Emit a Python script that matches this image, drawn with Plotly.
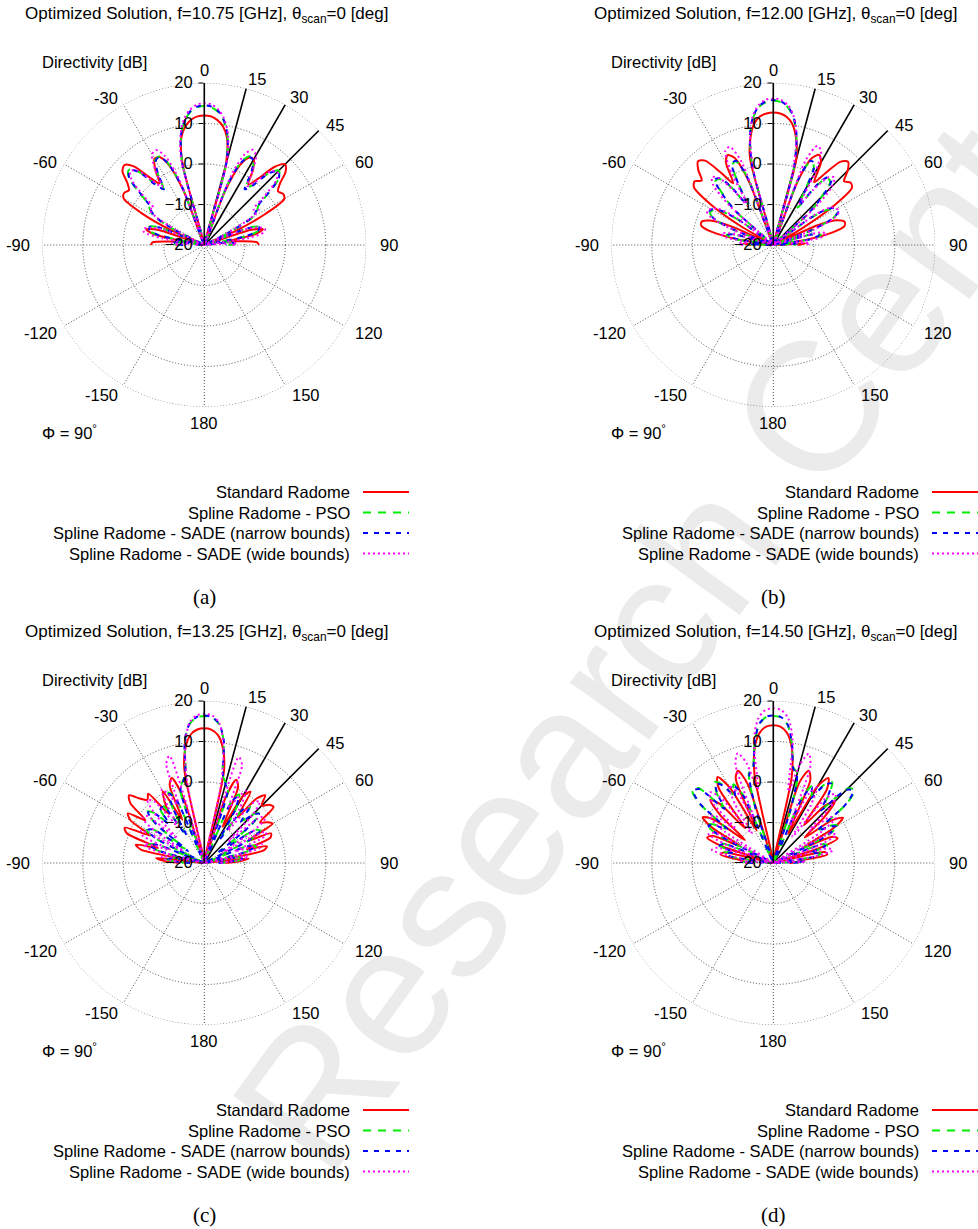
import plotly.graph_objects as go

# ---------------- data ----------------
theta_deg = list(range(-90, 91, 3))  # scan angle theta [deg], -90 .. 90

series_names = [
    "Standard Radome",
    "Spline Radome - PSO",
    "Spline Radome - SADE (narrow bounds)",
    "Spline Radome - SADE (wide bounds)",
]
frequencies = ["10.75", "12.00", "13.25", "14.50"]
panel_labels = ["(a)", "(b)", "(c)", "(d)"]

angular_label_angles = [0, 30, 60, 90, 120, 150, 180, -150, -120, -90, -60, -30, 15, 45]
angular_label_text = ["0", "30", "60", "90", "120", "150", "180", "-150", "-120", "-90", "-60", "-30", "15", "45"]
angular_gridvals = [0, 30, 60, 90, 120, 150, 180, 210, 240, 270, 300, 330]
radial_tickvals = [-20, -10, 0, 10, 20]
scan_line_angles = [15, 30, 45]

# Directivity [dB], theta = -90..90 step 3
a_standard = [-6.8, -7.2, -11.5, -15, -7.5, -5.2, -7.8, -20, -11, -2.5, 3.0, 3.6, 3.0, 4.5, 7.2, 7.9, 6.2, 1.5, -1.2, 2.2, 4.6, 4.4, 1.8, -5.5, -20, 0.8, 7.2, 9.7, 11.1, 11.8,
              12.0, 11.8, 11.0, 9.6, 7.0, 0.5, -20, -6, 1.5, 4.2, 4.4, 2.0, -1.5, 1.0, 6.0, 8.2, 7.0, 4.0, 2.5, 3.2, 2.8, -3, -12, -20, -8, -5, -7, -14, -11, -7, -6.5]
a_pso = [-14.5, -12, -12.5, -20, -8.5, -5.8, -5.5, -7.5, -20, -11, -5.5, -4.0, -3.0, 0.8, 5.2, 6.3, 4.5, -0.5, -2.8, 1.2, 4.2, 4.5, 2.2, -4.5, -20, 1.2, 7.6, 11.0, 13.0, 14.0,
         14.3, 14.0, 13.0, 11.0, 7.5, 1.0, -20, -4, 2.5, 4.6, 4.3, 1.5, -2.5, -1.0, 4.0, 6.0, 5.0, 0.5, -3.5, -4.5, -6, -12, -20, -8, -5.5, -6, -9, -20, -13, -12, -14]
a_sade_narrow = [-14.8, -12.3, -13, -20, -8.8, -6, -5.8, -7.8, -20, -11.5, -6, -4.3, -3.2, 0.5, 5.0, 6.1, 4.3, -0.8, -3.0, 1.0, 4.0, 4.4, 2.0, -4.8, -20, 1.3, 7.7, 11.1, 13.2, 14.2,
                 14.5, 14.2, 13.2, 11.1, 7.6, 1.2, -20, -4.5, 2.2, 4.4, 4.2, 1.2, -3, -1.2, 3.8, 5.8, 4.8, 0.2, -3.8, -4.8, -6.5, -13, -20, -8.5, -5.8, -6.2, -9.5, -20, -13.5, -12.5, -14.5]
a_sade_wide = [-13.5, -12, -20, -9.5, -4.8, -4.5, -6.2, -9.5, -20, -13, -6.5, -3.8, -4.5, -0.5, 4.2, 5.8, 4.8, 0.5, -2.2, 2.5, 5.8, 6.3, 4.2, -2.5, -20, 2.2, 8.1, 11.6, 13.6, 14.7,
               15.0, 14.7, 13.6, 11.5, 8.0, 2.0, -20, -2, 4.5, 6.4, 5.5, 2.0, -2.0, 0.0, 4.5, 5.5, 4.0, -1.0, -5, -4, -7, -14, -20, -9, -6, -4.5, -5, -9, -20, -12, -13]

b_standard = [-14.5, -12.5, -20, -11, -4.5, -1.6, -1.4, -3.2, -9, -20, -11, -1.5, 4.2, 5.0, 3.8, 6.2, 7.8, 6.8, 2.2, -1.8, 3.3, 4.9, 3.6, -3.2, -20, 2.2, 7.1, 10.3, 11.9, 12.5,
              12.7, 12.5, 11.8, 10.2, 7.0, 2.0, -20, -3, 3.5, 5.0, 3.5, -1.5, 2.0, 6.5, 7.6, 6.0, 3.5, 4.5, 4.0, -2, -12, -20, -8, -3, -1.5, -1.8, -5, -12, -20, -12, -14]
b_pso = [-15.5, -14, -20, -10.5, -8.2, -9.5, -20, -9.5, -3.8, -2.5, -2.8, -4.5, -10, -20, -7, -2.5, 1.3, 1.0, -2.5, -8.5, -3.5, 2.2, 2.6, -1.8, -20, -0.2, 7.6, 11.8, 14.2, 15.3,
         15.6, 15.3, 14.2, 11.8, 7.5, -0.5, -20, -2, 2.5, 2.0, -4, -9, -2, 1.2, 1.0, -3, -8, -20, -9, -4, -2.5, -2.3, -4, -10, -20, -9, -8, -10, -20, -14, -15]
b_sade_narrow = [-15.8, -14.2, -20, -11, -8.5, -9.8, -20, -10, -4.0, -2.2, -2.4, -4.2, -9.5, -20, -7.5, -2.2, 1.6, 1.3, -2.2, -8, -3.2, 2.5, 2.8, -2, -20, 0, 7.7, 12, 14.4, 15.5,
                 15.8, 15.5, 14.4, 12.0, 7.6, -0.3, -20, -2.2, 2.8, 2.4, -3.5, -8.5, -1.5, 1.6, 1.4, -2.5, -8.5, -20, -8.5, -3.5, -2.0, -2.0, -4.2, -10.5, -20, -9.5, -8.5, -10.5, -20, -14.5, -15.5]
b_sade_wide = [-12.5, -11.5, -15, -8.5, -6.8, -8.5, -20, -9.5, -3.2, -1.6, -2.2, -3.5, -7.5, -20, -5.5, 1.0, 2.6, 1.2, -3.5, -8.5, 0.8, 6.1, 6.5, 2.2, -20, -1.8, 7.6, 12.3, 14.7, 15.9,
               16.2, 15.9, 14.7, 12.2, 7.5, -2, -20, 2.5, 6.8, 6.0, 0.5, -8, -3, 1.5, 2.5, 0.5, -6, -20, -7, -3, -2, -1.8, -3.5, -9, -20, -8, -6.5, -8, -16, -11, -12]

c_standard = [-14, -10, -8, -20, -4, -2.5, -8, 0.5, 1.5, -5, 1.0, 2.5, -2, 3.5, 5.0, 2.5, 1.0, 2.0, -5, -2.0, 0.5, -8, 1.0, 2.5, -2.5, -20, 3.8, 9.2, 11.9, 13.0,
              13.3, 13.0, 11.8, 9.0, 3.5, -20, -3, 2.0, 0.5, -10, -1, 1.0, -6, 0.5, 2.5, 0.0, 1.5, 2.0, -3, -1.5, -0.5, -8, -2, -2.5, -9, -4, -5, -20, -9, -11, -15]
c_pso = [-16, -12.5, -10.5, -11.5, -20, -8, -5.5, -7, -20, -6, -3.5, -4.5, -14, -4.5, -1.0, -2.5, -6.5, -2.5, -2.5, -11, -4.5, -0.5, -2.5, -20, -0.5, 0.8, 2.5, 10.6, 14.5, 16.0,
         16.3, 16.0, 14.5, 10.5, 2.0, 0.5, -1, -20, -3, -1, -4, -12, -3, -2, -6, -3, -1.5, -5, -15, -5, -4, -7, -20, -8, -6.5, -9, -20, -11, -10, -13, -16]
c_sade_narrow = [-16.5, -13, -11, -12, -20, -8.5, -5.8, -7.5, -20, -6.5, -3.8, -4.8, -15, -4.8, -1.3, -2.8, -7, -2.8, -2.8, -12, -5, -0.8, -2.8, -20, -1.0, 0.5, 2.7, 10.8, 14.6, 16.1,
                 16.4, 16.1, 14.6, 10.7, 2.2, 0.2, -1.5, -20, -3.5, -1.5, -4.5, -13, -3.5, -2.5, -6.5, -3.2, -1.8, -5.5, -16, -5.5, -4.3, -7.5, -20, -8.5, -6.8, -9.5, -20, -11.5, -10.5, -13.5, -16.5]
c_sade_wide = [-15.5, -13.5, -9.5, -9.5, -20, -5.5, -4.5, -11, -3.2, -2.5, -14, -5.5, -1.2, -1.5, -11, -2.5, 1.0, -0.5, -9, -3.5, 1.0, -1.5, -4.5, 6.2, 7.8, -20, 0.3, 10.1, 14.8, 16.5,
               16.8, 16.5, 14.8, 10.0, 0.0, -20, 7.5, 6.0, -5, -2, 0.5, -4, -10, -1, 0.5, -3, -12, -2, -1.5, -6, -15, -3, -3.5, -12, -5, -6, -20, -9, -10, -14, -16]

d_standard = [-15.5, -13, -11, -6.8, -7.5, -20, -7, -2.5, -3.5, -11, -2.5, 0.8, -1.5, -11, -2.5, 2.0, -0.5, -9, 3.0, 5.3, 1.5, -11, 2.8, 4.4, 0.5, -20, 2.3, 9.1, 12.3, 13.7,
              14.0, 13.7, 12.3, 9.0, 2.0, -20, 1.0, 4.4, 2.5, -12, 2.0, 5.0, 2.5, -8, -1, 1.5, -3, -10, -2, 0.5, -3, -12, -4, -3, -8, -20, -7, -6.5, -12, -14, -16]
d_pso = [-14.5, -12.5, -20, -8.5, -7.5, -9.5, -5.5, -6.5, -20, -4.5, -1.0, -2.5, -5.5, 3.8, 7.0, 6.2, -1.5, 2.2, 4.7, 3.2, -0.5, 1.8, -1.5, -20, -5.5, 3.2, 4.2, 9.6, 14.2, 16.0,
         16.3, 16.0, 14.2, 9.5, 4.0, 3.0, -6, -20, -2, 1.5, -1, 3.0, 4.7, 2.0, -2, 6.0, 7.0, 3.5, -6, -3, -1.5, -5, -20, -7, -6, -10, -8, -9, -20, -12, -15]
d_sade_narrow = [-15, -13, -20, -9, -8, -10, -6, -7, -20, -5, -1.5, -3, -6, 3.3, 6.6, 5.8, -2, 1.8, 4.3, 2.8, -1, 1.3, -2, -20, -6, 2.8, 4.0, 9.7, 14.3, 16.1,
                 16.4, 16.1, 14.3, 9.6, 3.8, 2.6, -6.5, -20, -2.5, 1.0, -1.5, 2.6, 4.3, 1.6, -2.5, 5.6, 6.6, 3.0, -6.5, -3.5, -2.0, -5.5, -20, -7.5, -6.5, -10.5, -8.5, -9.5, -20, -12.5, -15.5]
d_sade_wide = [-13.5, -11.5, -20, -9.5, -4.5, -5.5, -20, -8.5, -2.5, -3.5, -20, -5.5, -0.5, -1.5, -7.5, 1.5, 3.5, 1.0, -11, -2.5, 2.0, -0.5, -9, 6.0, 8.5, 5.5, -1.5, 10.6, 15.8, 17.8,
               18.2, 17.8, 15.8, 10.5, -2, 5.0, 8.4, 5.5, -10, -1, 1.5, -3, -12, 0.5, 3.0, 1.0, -8, -2, -1, -6, -20, -4, -3, -9, -20, -6, -5, -10, -20, -12, -14]

panel_data = [
    [a_standard, a_pso, a_sade_narrow, a_sade_wide],
    [b_standard, b_pso, b_sade_narrow, b_sade_wide],
    [c_standard, c_pso, c_sade_narrow, c_sade_wide],
    [d_standard, d_pso, d_sade_narrow, d_sade_wide],
]
for grp in panel_data:
    for s in grp:
        assert len(s) == len(theta_deg), len(s)

# ---------------- style ----------------
W, H = 978, 1229
FONT = "Liberation Sans, Arial, Helvetica, sans-serif"
FS = 16.5
GRID = "#4d4d4d"
GRID_DASH = "1px,2px"
colors = ["#ff0000", "#00ee00", "#0000ff", "#ff00ff"]
dashes = ["solid", "8px,7px", "5px,6px", "2px,3px"]
R = 162
centers = [(204.3, 245), (773.3, 245), (204.3, 863), (773.3, 863)]
subplot_ids = ["polar", "polar2", "polar3", "polar4"]
# label placement (pixel offsets from the pole) for angular labels
label_offsets = {
    "0": (0, -175), "30": (95, -148), "60": (160, -83), "90": (185, 0),
    "120": (165, 88), "150": (102, 150), "180": (0, 178), "-150": (-103, 150),
    "-120": (-164, 88), "-90": (-186, 0), "-60": (-159, -83), "-30": (-98, -147),
    "15": (53, -166), "45": (131, -120),
}
outer_ring_theta = list(range(0, 361, 2))


def px(x):
    return x / W


def py(y):
    return 1 - y / H


fig = go.Figure()
layout_polars = {}
annotations = []
shapes = []

# faint background watermark
wm_cx, wm_cy, wm_ux, wm_uy = 672, 569, 0.588, -0.809
shapes.append(dict(
    type="line", xref="paper", yref="paper", layer="below",
    x0=px(wm_cx - 100 * wm_ux), y0=py(wm_cy - 100 * wm_uy),
    x1=px(wm_cx + 100 * wm_ux), y1=py(wm_cy + 100 * wm_uy),
    line=dict(width=0, color="rgba(0,0,0,0)"),
    label=dict(text="Research Center", textposition="middle", yanchor="middle",
               font=dict(family=FONT, size=185, color="#ebebeb"))))

for k, (sid, (cx, cy), series, freq, lab) in enumerate(
        zip(subplot_ids, centers, panel_data, frequencies, panel_labels)):
    # outer dotted ring (r = 20 grid circle)
    fig.add_trace(go.Scatterpolar(
        r=[radial_tickvals[-1]] * len(outer_ring_theta), theta=outer_ring_theta, mode="lines",
        line=dict(color=GRID, width=1, dash=GRID_DASH), subplot=sid,
        showlegend=False, hoverinfo="skip"))
    # scan direction lines
    for ang in scan_line_angles:
        fig.add_trace(go.Scatterpolar(
            r=[radial_tickvals[0], radial_tickvals[-1]], theta=[ang, ang], mode="lines",
            line=dict(color="black", width=1.6), subplot=sid,
            showlegend=False, hoverinfo="skip"))
    for vals, name, col, dsh in zip(series, series_names, colors, dashes):
        fig.add_trace(go.Scatterpolar(
            r=vals, theta=theta_deg, mode="lines", name=name,
            line=dict(color=col, width=2, dash=dsh, shape="spline", smoothing=0.8),
            subplot=sid, showlegend=False))

    layout_polars[sid] = dict(
        domain=dict(x=[px(cx - R), px(cx + R)], y=[py(cy + R), py(cy - R)]),
        bgcolor="rgba(0,0,0,0)",
        angularaxis=dict(
            rotation=90, direction="clockwise", tickmode="array",
            tickvals=angular_gridvals, showticklabels=False,
            showgrid=True, gridcolor=GRID, gridwidth=1, griddash=GRID_DASH,
            showline=False, ticks=""),
        radialaxis=dict(
            range=[-20, 20], tickmode="array", tickvals=radial_tickvals,
            angle=90, side="counterclockwise", tickangle=90,
            showline=True, linecolor="black", linewidth=1.6,
            ticks="outside", ticklen=5, tickcolor="black",
            showgrid=True, gridcolor=GRID, gridwidth=1, griddash=GRID_DASH,
            tickfont=dict(family=FONT, size=FS, color="black")),
    )

    # angular labels
    for ang, txt in zip(angular_label_angles, angular_label_text):
        ox, oy = label_offsets[txt]
        annotations.append(dict(
            x=px(cx + ox), y=py(cy + oy), xref="paper", yref="paper",
            xanchor="center", yanchor="middle", text=txt, showarrow=False,
            font=dict(family=FONT, size=FS, color="black")))

    dx = cx - 204.3
    dy = cy - 245
    annotations.append(dict(
        x=px(23 + dx), y=py(15 + dy), xref="paper", yref="paper", xanchor="left", yanchor="middle",
        text=f"Optimized Solution, f={freq} [GHz], θ<sub>scan</sub>=0 [deg]", showarrow=False,
        font=dict(family=FONT, size=17, color="black")))
    annotations.append(dict(
        x=px(40 + dx), y=py(62 + dy), xref="paper", yref="paper", xanchor="left", yanchor="middle",
        text="Directivity [dB]", showarrow=False, font=dict(family=FONT, size=FS, color="black")))
    annotations.append(dict(
        x=px(40 + dx), y=py(432 + dy), xref="paper", yref="paper", xanchor="left", yanchor="middle",
        text="Φ = 90<sup>°</sup>", showarrow=False, font=dict(family=FONT, size=FS, color="black")))
    annotations.append(dict(
        x=px(cx), y=py(597 + dy), xref="paper", yref="paper", xanchor="center", yanchor="middle",
        text=lab, showarrow=False, font=dict(family="Liberation Serif, DejaVu Serif, serif", size=21, color="black")))
    # legend
    for j, (name, col, dsh) in enumerate(zip(series_names, colors, dashes)):
        yy = 492 + 20.5 * j + dy
        annotations.append(dict(
            x=px(352 + dx), y=py(yy), xref="paper", yref="paper", xanchor="right", yanchor="middle",
            text=name, showarrow=False, font=dict(family=FONT, size=FS, color="black")))
        shapes.append(dict(
            type="line", xref="paper", yref="paper", x0=px(363 + dx), x1=px(409 + dx),
            y0=py(yy), y1=py(yy), line=dict(color=col, width=1.8, dash=dsh)))

fig.update_layout(
    width=W, height=H, margin=dict(l=0, r=0, t=0, b=0),
    paper_bgcolor="white", plot_bgcolor="white",
    showlegend=False, annotations=annotations, shapes=shapes,
    font=dict(family=FONT, size=FS, color="black"),
    **layout_polars,
)

fig.write_html("out.html")
